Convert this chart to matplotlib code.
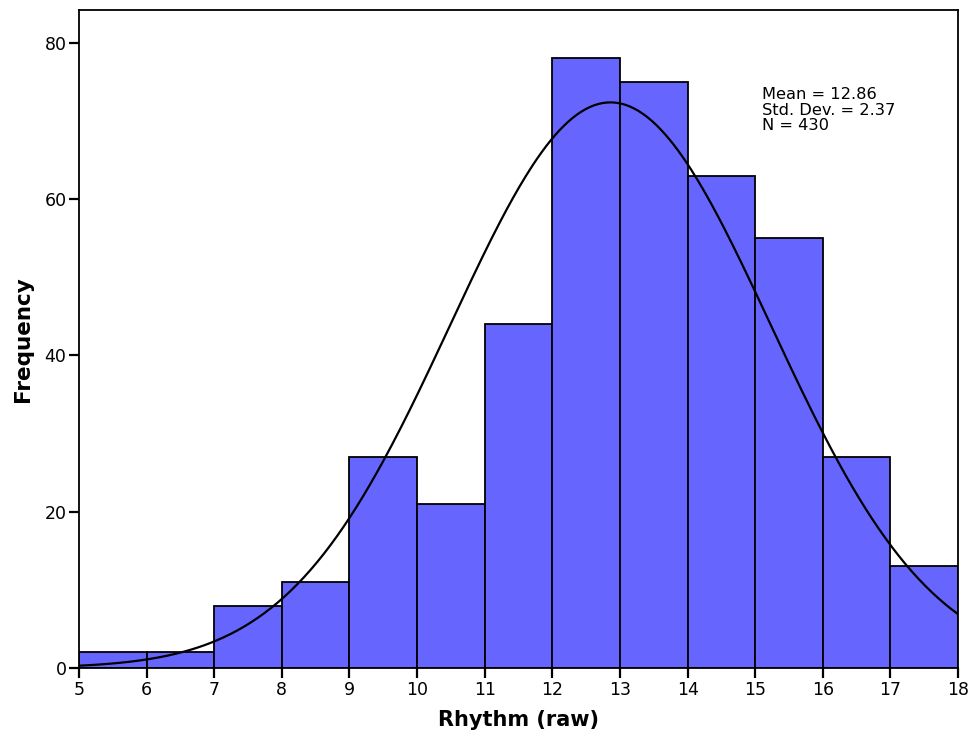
import numpy as np
import matplotlib
matplotlib.use("Agg")
import matplotlib.pyplot as plt

bin_edges = [5, 6, 7, 8, 9, 10, 11, 12, 13, 14, 15, 16, 17, 18]
counts = [2, 2, 8, 11, 27, 21, 44, 78, 75, 63, 55, 27, 13]
mean = 12.86
sd = 2.37
n = 430
xticks = list(range(5, 19))
yticks = [0, 20, 40, 60, 80]

plt.rcParams['font.family'] = ['DejaVu Sans']

fig = plt.figure(figsize=(9.79, 7.42), dpi=100)
ax = fig.add_axes([0.0807, 0.0997, 0.8979, 0.8868])

lefts = np.array(bin_edges[:-1])
widths = np.diff(bin_edges)
ax.bar(lefts, counts, width=widths, align='edge', color='#6666FF',
       edgecolor='black', linewidth=1.3, zorder=2)

x = np.linspace(bin_edges[0], bin_edges[-1], 400)
bw = widths[0]
y = n * bw / (sd * np.sqrt(2 * np.pi)) * np.exp(-0.5 * ((x - mean) / sd) ** 2)
ax.plot(x, y, color='black', linewidth=1.6, zorder=3)

ax.set_xlim(bin_edges[0], bin_edges[-1])
ax.set_ylim(0, 84.2)
ax.set_xticks(xticks)
ax.set_yticks(yticks)
ax.tick_params(axis='both', direction='out', length=7, width=1.6,
               labelsize=12.5, pad=2)
for s in ax.spines.values():
    s.set_linewidth(1.3)

ax.set_xlabel('Rhythm (raw)', fontsize=15, fontweight='bold', labelpad=8)
ax.set_ylabel('Frequency', fontsize=15.5, fontweight='bold', labelpad=8)

ax.text(15.1, 74.3, 'Mean = 12.86\nStd. Dev. = 2.37\nN = 430',
        fontsize=11.7, va='top', ha='left', linespacing=1.02)

fig.savefig('out.png', dpi=100)
